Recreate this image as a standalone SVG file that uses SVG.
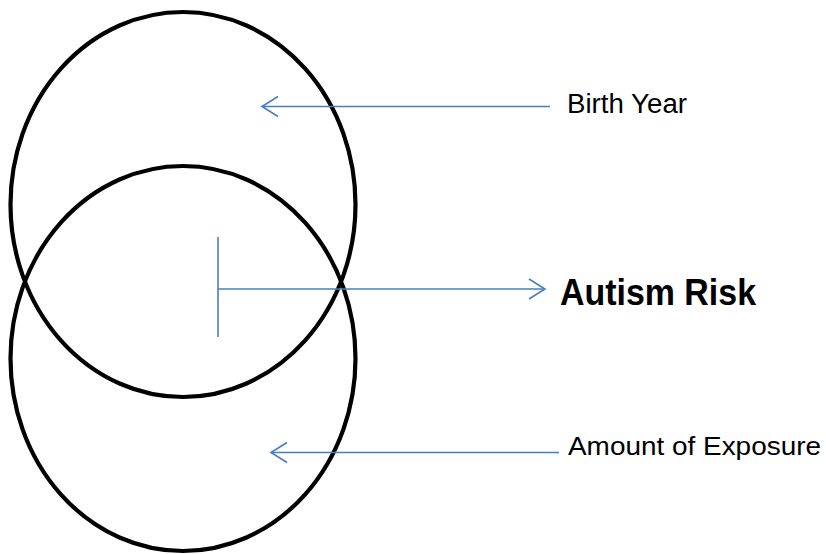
<svg xmlns="http://www.w3.org/2000/svg" width="826" height="554" viewBox="0 0 826 554">
<defs>
<style>
.circ{fill:none;stroke:#000;stroke-width:4.2}
.con{fill:none;stroke:#4a7ebb;stroke-width:1.6}
.lbl{font-family:"Liberation Sans",Arial,sans-serif;fill:#000}
</style>
<marker id="open" viewBox="0 0 20 24" refX="17" refY="12" markerWidth="20" markerHeight="24" markerUnits="userSpaceOnUse" orient="auto">
<path d="M1,2 L17,12 L1,22" fill="none" stroke="#4a7ebb" stroke-width="1.6"/>
</marker>
</defs>
<rect width="826" height="554" fill="#fff"/>
<g id="birth-year-circle"><ellipse class="circ" cx="183" cy="204.5" rx="172.5" ry="192.5"/></g>
<g id="exposure-circle"><ellipse class="circ" cx="183" cy="358.5" rx="172.5" ry="192.5"/></g>
<g id="connectors">
<line class="con" x1="550" y1="106.5" x2="262" y2="106.5" marker-end="url(#open)"/>
<line class="con" x1="559" y1="452.5" x2="271" y2="452.5" marker-end="url(#open)"/>
<line class="con" x1="218" y1="237" x2="218" y2="337"/>
<line class="con" x1="218" y1="289" x2="545" y2="289" marker-end="url(#open)"/>
</g>
<g id="label-birth-year"><text class="lbl" x="567" y="113" font-size="27" textLength="120" lengthAdjust="spacingAndGlyphs">Birth Year</text></g>
<g id="label-autism-risk"><text class="lbl" x="560" y="305" font-size="37" font-weight="bold" textLength="196" lengthAdjust="spacingAndGlyphs">Autism Risk</text></g>
<g id="label-exposure"><text class="lbl" x="568" y="455" font-size="26" textLength="253" lengthAdjust="spacingAndGlyphs">Amount of Exposure</text></g>
</svg>
